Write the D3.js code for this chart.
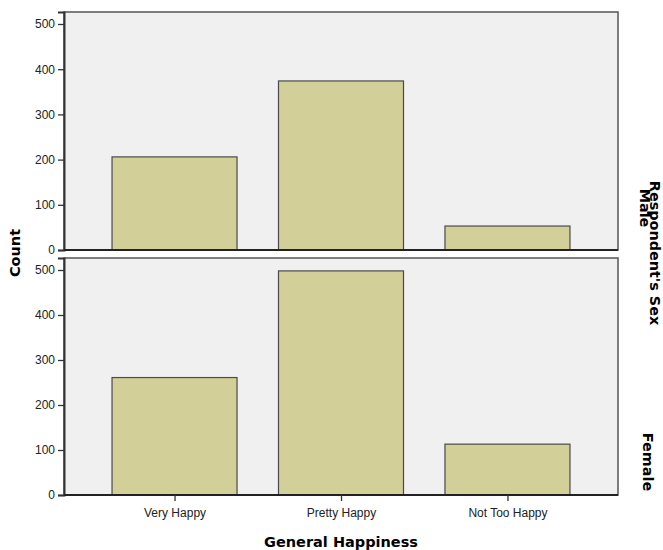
<!DOCTYPE html>
<html><head><meta charset="utf-8">
<script src="https://cdn.jsdelivr.net/npm/d3@7"></script>
<style>body{margin:0;background:#fff}svg{display:block}</style>
</head><body>
<svg id="c" width="663" height="550"></svg>
<script>
const categories = ["Very Happy", "Pretty Happy", "Not Too Happy"];
const panels = ["Male", "Female"];
const maleCounts = [206, 374, 53];
const femaleCounts = [261, 498, 113];
const yTicks = [0, 100, 200, 300, 400, 500];
const xTitle = "General Happiness";
const yTitle = "Count";
const panelTitle = "Respondent's Sex";

const svg = d3.select("#c");
const left = 64, right = 618;
const panelBoxes = [{top: 12, bottom: 250}, {top: 258, bottom: 495}];
const data = [maleCounts, femaleCounts];

const x = d3.scalePoint().domain(categories).range([left, right]).padding(0.664);
const barW = 125;

panelBoxes.forEach((pb, i) => {
  const span = pb.bottom - pb.top;
  const maxV = 500 * span / (span - 12);
  const y = d3.scaleLinear().domain([0, maxV]).range([pb.bottom, pb.top]);
  const g = svg.append("g");
  g.append("rect").attr("x", left).attr("y", pb.top).attr("width", right - left).attr("height", span)
    .attr("fill", "#f0f0f0").attr("stroke", "#555").attr("stroke-width", 1.5);
  g.selectAll("rect.bar").data(data[i]).join("rect").attr("class", "bar")
    .attr("x", (d, j) => x(categories[j]) - barW / 2)
    .attr("y", d => y(d))
    .attr("width", barW)
    .attr("height", d => pb.bottom - y(d))
    .attr("fill", "#d3cf98").attr("stroke", "#4a4a4a").attr("stroke-width", 1.2);
  const ax = g.append("g").attr("transform", `translate(${left},0)`)
    .call(d3.axisLeft(y).tickValues(yTicks).tickSize(6).tickPadding(3).tickFormat(d3.format("d")));
  ax.select(".domain").attr("stroke", "#333").attr("stroke-width", 2);
  ax.selectAll(".tick line").attr("stroke", "#333").attr("stroke-width", 1.3);
  ax.selectAll("text").attr("font-family", "Liberation Sans, Arial, sans-serif").attr("font-size", 12).attr("fill", "#222");
  g.append("line").attr("x1", left).attr("x2", right).attr("y1", pb.bottom).attr("y2", pb.bottom)
    .attr("stroke", "#222").attr("stroke-width", 2);
  const labelY = i === 0 ? 208 : 462;
  const labelX = i === 0 ? 645 : 648;
  svg.append("text").attr("transform", `translate(${labelX},${labelY}) rotate(90)`)
    .attr("text-anchor", "middle").attr("dy", "0.35em")
    .attr("font-family", "DejaVu Sans, sans-serif").attr("font-weight", "bold").attr("font-size", 14.4)
    .attr("fill", "#000").text(panels[i]);
});

const xa = svg.append("g").attr("transform", `translate(0,495)`)
  .call(d3.axisBottom(x).tickSize(6).tickPadding(7));
xa.select(".domain").remove();
xa.selectAll(".tick line").attr("stroke", "#333").attr("stroke-width", 1.3);
xa.selectAll("text").attr("font-family", "Liberation Sans, Arial, sans-serif").attr("font-size", 12).attr("fill", "#222");

svg.append("text").attr("x", 341).attr("y", 547).attr("text-anchor", "middle")
  .attr("font-family", "DejaVu Sans, sans-serif").attr("font-weight", "bold").attr("font-size", 14.5)
  .attr("fill", "#000").text(xTitle);
svg.append("text").attr("transform", "translate(15,253) rotate(-90)").attr("text-anchor", "middle").attr("dy", "0.35em")
  .attr("font-family", "DejaVu Sans, sans-serif").attr("font-weight", "bold").attr("font-size", 14.5)
  .attr("fill", "#000").text(yTitle);
svg.append("text").attr("transform", "translate(655,253) rotate(90)").attr("text-anchor", "middle").attr("dy", "0.35em")
  .attr("font-family", "DejaVu Sans, sans-serif").attr("font-weight", "bold").attr("font-size", 14.4)
  .attr("fill", "#000").text(panelTitle);
</script>
</body></html>
